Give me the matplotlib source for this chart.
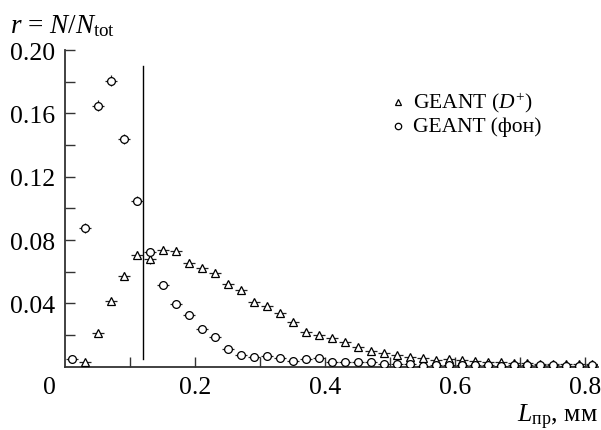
import matplotlib
matplotlib.use('Agg')
import matplotlib.pyplot as plt
from matplotlib.ticker import FixedLocator

plt.rcParams['font.family'] = ['Liberation Serif', 'DejaVu Serif']
plt.rcParams['mathtext.fontset'] = 'custom'
plt.rcParams['mathtext.rm'] = 'Liberation Serif'
plt.rcParams['mathtext.it'] = 'Liberation Serif:italic'

# background (circles)
x_bg = [0.011, 0.031, 0.051, 0.071, 0.091, 0.111, 0.131, 0.151, 0.171, 0.191,
        0.211, 0.231, 0.251, 0.271, 0.291, 0.311, 0.331, 0.351, 0.371, 0.391,
        0.411, 0.431, 0.451, 0.471, 0.491, 0.511, 0.531, 0.551, 0.571, 0.591,
        0.611, 0.631, 0.651, 0.671, 0.691, 0.711, 0.731, 0.751, 0.771, 0.791,
        0.811]
y_bg = [0.0049, 0.0876, 0.1649, 0.1807, 0.1438, 0.1049, 0.0726, 0.0514, 0.0394, 0.0327,
        0.0236, 0.0190, 0.0110, 0.0076, 0.0061, 0.0069, 0.0055, 0.0036, 0.0049, 0.0055,
        0.0028, 0.0028, 0.0032, 0.0028, 0.0017, 0.0017, 0.0017, 0.0003, 0.0011, 0.0013,
        0.0012, 0.0010, 0.0008, 0.0006, 0.0012, 0.0010, 0.0009, 0.0010, 0.0007, 0.0005,
        0.0008]
err_bg = [0.0008, 0.0030, 0.0036, 0.0037, 0.0034, 0.0030, 0.0026, 0.0020, 0.0017, 0.0016,
          0.0013, 0.0012, 0.0010, 0.0008, 0.0008, 0.0008, 0.0007, 0.0006, 0.0007, 0.0007,
          0.0005, 0.0005, 0.0005, 0.0005, 0.0004, 0.0004, 0.0004, 0.0002, 0.0003, 0.0003,
          0.0003, 0.0003, 0.0003, 0.0002, 0.0003, 0.0003, 0.0003, 0.0003, 0.0002, 0.0002,
          0.0003]

# signal D+ (triangles)
x_d = [0.031, 0.051, 0.071, 0.091, 0.111, 0.131, 0.151, 0.171, 0.191, 0.211,
       0.231, 0.251, 0.271, 0.291, 0.311, 0.331, 0.351, 0.371, 0.391, 0.411,
       0.431, 0.451, 0.471, 0.491, 0.511, 0.531, 0.551, 0.571, 0.591, 0.611,
       0.631, 0.651, 0.671, 0.691, 0.711, 0.731, 0.751, 0.771, 0.791, 0.811]
y_d = [0.0032, 0.0213, 0.0415, 0.0575, 0.0706, 0.0678, 0.0735, 0.0731, 0.0655, 0.0622,
       0.0594, 0.0521, 0.0486, 0.0409, 0.0382, 0.0339, 0.0282, 0.0221, 0.0200, 0.0183,
       0.0154, 0.0126, 0.0101, 0.0087, 0.0074, 0.0063, 0.0053, 0.0044, 0.0049, 0.0044,
       0.0038, 0.0032, 0.0028, 0.0025, 0.0023, 0.0020, 0.0017, 0.0017, 0.0014, 0.0014]
err_d = [0.0006, 0.0015, 0.0020, 0.0023, 0.0026, 0.0030, 0.0026, 0.0026, 0.0024, 0.0023,
         0.0022, 0.0021, 0.0020, 0.0018, 0.0018, 0.0017, 0.0015, 0.0014, 0.0013, 0.0012,
         0.0011, 0.0010, 0.0009, 0.0009, 0.0008, 0.0007, 0.0007, 0.0006, 0.0006, 0.0006,
         0.0006, 0.0005, 0.0005, 0.0005, 0.0004, 0.0004, 0.0004, 0.0004, 0.0003, 0.0003]

cut_x = 0.12
half_bin = 0.009

fig = plt.figure(figsize=(6.01, 4.31), dpi=100)
ax = fig.add_axes([65 / 601, 1 - 367.7 / 431, 533 / 601, 316.7 / 431])

ax.errorbar(x_d, y_d, xerr=half_bin, yerr=err_d, fmt='^', ms=6.2, mfc='white',
            mec='black', mew=0.9, ecolor='#222222', elinewidth=0.9, capsize=0, zorder=3)
ax.errorbar(x_bg, y_bg, xerr=half_bin, yerr=err_bg, fmt='o', ms=5.6, mfc='white',
            mec='black', mew=0.9, ecolor='#222222', elinewidth=0.9, capsize=0, zorder=4)

ax.plot([cut_x, cut_x], [0.005, 0.19], color='black', lw=1.0, zorder=2)

ax.set_xlim(0, 0.82)
ax.set_ylim(0, 0.20)

for s in ['top', 'right']:
    ax.spines[s].set_visible(False)
for s in ['left', 'bottom']:
    ax.spines[s].set_color('#333333')
    ax.spines[s].set_linewidth(1.3)

ax.xaxis.set_major_locator(FixedLocator([0.2, 0.4, 0.6, 0.8]))
ax.xaxis.set_minor_locator(FixedLocator([0.1, 0.3, 0.5, 0.7]))
ax.set_xticklabels(['0.2', '0.4', '0.6', '0.8'])
ax.yaxis.set_major_locator(FixedLocator([0.04, 0.08, 0.12, 0.16, 0.20]))
ax.yaxis.set_minor_locator(FixedLocator([0.02, 0.06, 0.10, 0.14, 0.18]))
ax.set_yticklabels(['0.04', '0.08', '0.12', '0.16', '0.20'])
ax.tick_params(which='both', direction='in', length=7.5, width=1.0, color='#333333',
               labelsize=18.5, pad=7)

ax.annotate('0', xy=(0, 0), xycoords='data', xytext=(-11, -7), textcoords='offset points',
            ha='center', va='top', fontsize=18.5)

# legend drawn by hand
ax.plot([0.625], [0.836], marker='^', ms=5, mfc='white', mec='black', mew=0.9,
        transform=ax.transAxes, clip_on=False)
ax.text(0.652, 0.836, r'GEANT ($D^{+}$)', transform=ax.transAxes, fontsize=15.5, va='center')
ax.plot([0.625], [0.760], marker='o', ms=4.6, mfc='white', mec='black', mew=0.9,
        transform=ax.transAxes, clip_on=False)
ax.text(0.652, 0.760, 'GEANT (фон)', transform=ax.transAxes, fontsize=15.5, va='center')

fig.text(0.016, 1 - 33 / 431, r'$r$ = $N$/$N_{\mathrm{tot}}$', fontsize=19.5, va='baseline')
fig.text(0.995, 1 - 422 / 431, r'$L_{\mathrm{пр}}$, мм', fontsize=18.5, ha='right', va='baseline')

fig.savefig('out.png', dpi=100)
